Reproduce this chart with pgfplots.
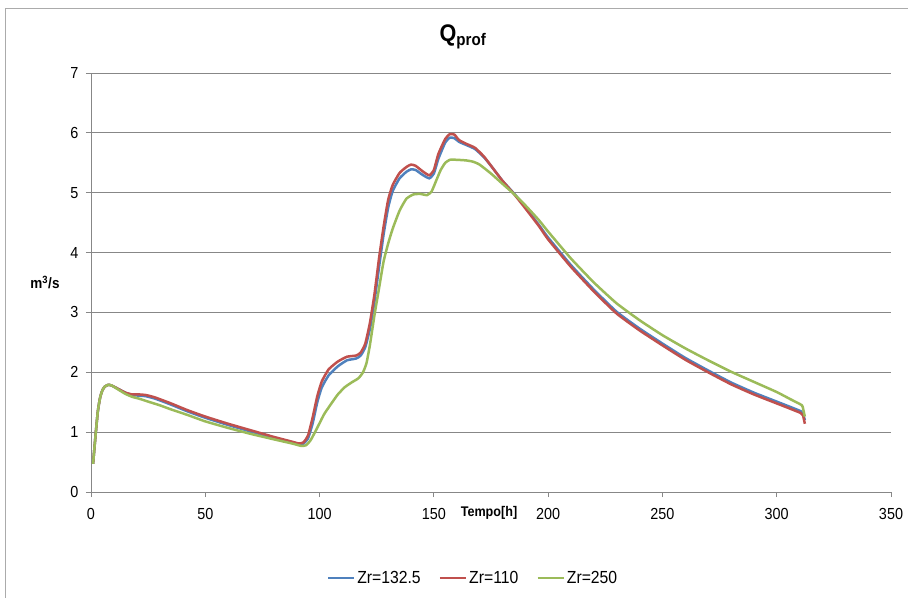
\documentclass[border=0pt]{standalone}
\usepackage{fontspec}
\setmainfont{Liberation Sans}[FakeStretch=0.9]
\usepackage{pgfplots}
\pgfplotsset{compat=1.18}
\definecolor{cblue}{HTML}{4F81BD}
\definecolor{cred}{HTML}{C0504D}
\definecolor{cgreen}{HTML}{9BBB59}
\definecolor{gridc}{HTML}{878787}
\begin{document}
\begin{tikzpicture}
\begin{axis}[
  name=ax,
  scale only axis,
  width=800bp, height=419bp,
  xmin=0, xmax=350, ymin=0, ymax=7,
  xtick={0,50,...,350}, ytick={0,1,...,7},
  axis lines*=left,
  axis line style={gridc, line width=0.8pt, -},
  ymajorgrids, major grid style={gridc, line width=0.8pt},
  tick style={gridc, line width=0.8pt},
  major tick length=5bp,
  xtick pos=bottom, ytick pos=left,
  tick align=outside,
  tick label style={font=\fontsize{16bp}{18bp}\selectfont, text=black},
  xticklabel style={yshift=-8bp},
  yticklabel style={xshift=-4bp},
  /pgf/number format/assume math mode=true,
  legend style={draw=none, fill=none, at={(rel axis cs:0.4775,0)}, yshift=-86bp, anchor=center,
    font=\fontsize{17.5bp}{19bp}\selectfont, /tikz/every even column/.append style={column sep=16bp}},
  legend columns=3,
  legend image code/.code={\draw[#1, line width=2.5bp] (0bp,0bp) -- (26bp,0bp);},
  clip=false,
]
\addplot[cblue, line width=2.5bp, smooth, tension=0.3] coordinates {
(0.9,0.47)(2,0.95)(3,1.35)(4,1.58)(5,1.70)(6,1.76)(7.5,1.79)(9,1.78)(12,1.72)(15,1.66)(18,1.62)(21,1.61)(24,1.60)(28,1.56)(35,1.46)(42,1.35)(50,1.24)(60,1.12)(70,1.01)(80,0.91)(88,0.83)(91,0.80)(93,0.81)(95,0.90)(97,1.15)(99,1.50)(101,1.75)(104,1.95)(108,2.10)(112,2.20)(116,2.23)(118,2.28)(120,2.42)(122,2.72)(124,3.18)(126,3.75)(128,4.30)(130,4.75)(132,5.03)(135,5.24)(138,5.35)(140,5.39)(142,5.38)(145,5.30)(148,5.24)(150,5.32)(152,5.57)(155,5.84)(157,5.92)(159,5.91)(161,5.85)(164,5.80)(168,5.73)(172,5.59)(176,5.40)(180,5.20)(185,4.99)(190,4.76)(196,4.46)(200,4.25)(210,3.79)(220,3.38)(230,3.01)(240,2.73)(250,2.48)(260,2.24)(270,2.03)(280,1.83)(290,1.66)(300,1.51)(306,1.42)(310.5,1.35)(311.5,1.31)(312.3,1.20)
};
\addlegendentry{Zr=132.5}
\addplot[cred, line width=2.5bp, smooth, tension=0.3] coordinates {
(0.9,0.47)(2,0.95)(3,1.35)(4,1.58)(5,1.70)(6,1.76)(7.5,1.79)(9,1.78)(12,1.72)(15,1.66)(18,1.63)(21,1.63)(24,1.62)(28,1.58)(35,1.48)(42,1.37)(50,1.26)(60,1.14)(70,1.03)(80,0.92)(88,0.84)(91,0.81)(93,0.83)(95,0.95)(97,1.25)(99,1.60)(101,1.85)(104,2.05)(108,2.18)(112,2.26)(116,2.28)(118,2.33)(120,2.48)(122,2.82)(124,3.30)(126,3.90)(128,4.43)(130,4.88)(132,5.13)(135,5.33)(138,5.43)(140,5.47)(142,5.45)(145,5.36)(148,5.29)(150,5.38)(152,5.65)(155,5.90)(157,5.98)(159,5.97)(161,5.88)(164,5.82)(168,5.75)(172,5.60)(176,5.40)(180,5.20)(185,4.98)(190,4.74)(196,4.44)(200,4.22)(210,3.76)(220,3.35)(230,2.98)(240,2.70)(250,2.45)(260,2.21)(270,2.00)(280,1.80)(290,1.63)(300,1.48)(306,1.39)(310.5,1.32)(311.5,1.28)(312.3,1.14)
};
\addlegendentry{Zr=110}
\addplot[cgreen, line width=2.5bp, smooth, tension=0.3] coordinates {
(0.9,0.47)(2,0.95)(3,1.35)(4,1.58)(5,1.70)(6,1.76)(7.5,1.79)(9,1.78)(12,1.71)(15,1.64)(18,1.59)(21,1.56)(25,1.51)(30,1.45)(35,1.38)(42,1.29)(50,1.18)(60,1.07)(70,0.97)(80,0.88)(88,0.81)(92,0.77)(94,0.78)(96,0.86)(98,1.00)(100,1.15)(102,1.30)(105,1.47)(108,1.63)(111,1.75)(114,1.83)(117,1.90)(119,2.00)(120.5,2.15)(122,2.45)(124,2.95)(126,3.40)(128,3.85)(130,4.15)(132,4.40)(135,4.70)(138,4.90)(141,4.97)(144,4.98)(147,4.96)(149,5.02)(151,5.20)(153,5.38)(155,5.50)(157,5.55)(160,5.55)(164,5.54)(167,5.52)(170,5.47)(175,5.32)(180,5.15)(185,4.98)(190,4.79)(196,4.54)(200,4.35)(210,3.90)(220,3.50)(230,3.15)(240,2.87)(250,2.62)(260,2.40)(270,2.20)(280,2.01)(290,1.84)(300,1.67)(306,1.55)(311,1.45)(311.6,1.38)(312.3,1.26)
};
\addlegendentry{Zr=250}
\node[font=\bfseries\fontsize{15bp}{17bp}\selectfont] at (rel axis cs:0,0.5) [xshift=-46bp] {m\textsuperscript{3}/s};
\node[font=\bfseries\fontsize{14bp}{16bp}\selectfont] at (rel axis cs:0.4975,0) [yshift=-21bp] {Tempo[h]};
\node[font=\bfseries\fontsize{24bp}{28bp}\selectfont] at (rel axis cs:0.465,1) [yshift=36bp] {Q\textsubscript{prof}};
\coordinate (SW) at (rel axis cs:0,0);
\coordinate (NE) at (rel axis cs:1,1);
\end{axis}
\draw[gridc!70, line width=0.8pt] ([shift={(-86bp,-120bp)}]SW) -- ([shift={(-86bp,65bp)}]SW|-NE) -- ([shift={(40bp,65bp)}]NE);
\pgfresetboundingbox
\path[use as bounding box] ([shift={(-91bp,-106bp)}]SW) rectangle ([shift={(17bp,73bp)}]NE);
\end{tikzpicture}
\end{document}
